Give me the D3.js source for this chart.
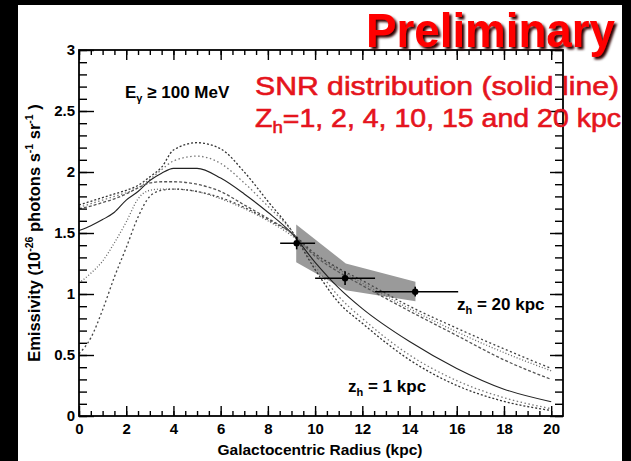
<!DOCTYPE html>
<html>
<head>
<meta charset="utf-8">
<script src="https://cdn.jsdelivr.net/npm/d3@7"></script>
<style>
  body { margin: 0; background: #000; }
  svg { display: block; font-family: 'Liberation Sans', Arial, sans-serif; }
</style>
</head>
<body>
<div id="chart"></div>
<script>
// galactocentric radius grid (kpc)
const radius = [0, 0.5, 1, 1.5, 2, 2.5, 3, 3.5, 4, 5, 6, 7, 8, 9, 10, 11, 12, 14, 16, 18, 20]

// model emissivity curves, one per halo height
const zh1 = [1.73, 1.76, 1.79, 1.82, 1.85, 1.89, 1.96, 2.04, 2.18, 2.24, 2.19, 2.0, 1.76, 1.52, 1.2, 0.93, 0.76, 0.46, 0.25, 0.12, 0.045]
const zh2 = [1.71, 1.74, 1.77, 1.8, 1.83, 1.87, 1.94, 2.02, 2.09, 2.13, 2.07, 1.91, 1.72, 1.52, 1.23, 0.98, 0.8, 0.5, 0.29, 0.15, 0.06]
const zh4 = [1.52, 1.56, 1.61, 1.67, 1.77, 1.84, 1.93, 1.99, 2.03, 2.03, 1.95, 1.82, 1.67, 1.5, 1.26, 1.05, 0.88, 0.61, 0.39, 0.22, 0.117]
const zh10 = [1.7, 1.72, 1.75, 1.78, 1.82, 1.87, 1.91, 1.92, 1.92, 1.9, 1.84, 1.73, 1.62, 1.5, 1.31, 1.18, 1.07, 0.86, 0.66, 0.46, 0.3]
const zh15 = [1.09, 1.17, 1.27, 1.42, 1.59, 1.78, 1.85, 1.86, 1.86, 1.84, 1.78, 1.7, 1.6, 1.48, 1.32, 1.2, 1.09, 0.88, 0.69, 0.52, 0.37]
const zh20 = [0.51, 0.64, 0.87, 1.14, 1.38, 1.63, 1.8, 1.85, 1.86, 1.84, 1.79, 1.71, 1.61, 1.5, 1.33, 1.21, 1.11, 0.9, 0.72, 0.55, 0.39]

// measured points
const pointR = [9.22, 11.27, 14.24]
const pointLo = [8.52, 10.0, 12.54]
const pointHi = [10.0, 12.54, 16.06]
const pointE = [1.416, 1.129, 1.019]
const pointELo = [1.366, 1.074, 0.98]
const pointEHi = [1.47, 1.185, 1.06]

// systematic band
const bandR = [9.2, 11.3, 14.25]
const bandUpper = [1.57, 1.25, 1.1]
const bandLower = [1.26, 1.03, 0.94]

const xMajor = d3.range(0, 21, 2)
const xMinor = d3.range(0, 20.5, 0.5)
const yMajor = [0, 0.5, 1, 1.5, 2, 2.5, 3]
const yMinor = d3.range(0, 3.01, 0.1)

const W = 631
const H = 461
const margin = { top: 50, left: 79, right: 68, bottom: 45 }

const svg = d3
  .select('#chart')
  .append('svg')
  .attr('width', W)
  .attr('height', H)

const defs = svg.append('defs')
defs.append('filter')
  .attr('id', 'shadow')
  .attr('x', '-5%').attr('y', '-10%').attr('width', '115%').attr('height', '130%')
  .append('feDropShadow')
  .attr('dx', 2.5).attr('dy', 2.5).attr('stdDeviation', 0.8)
  .attr('flood-color', '#300').attr('flood-opacity', 1)

// black slide background with white panel
svg.append('rect').attr('width', W).attr('height', H).attr('fill', '#000')
svg.append('rect')
  .attr('x', 18).attr('y', 5)
  .attr('width', 604).attr('height', H - 5)
  .attr('fill', '#fff')

const x = d3.scaleLinear().domain([0, 20.5]).range([margin.left, W - margin.right])
const y = d3.scaleLinear().domain([0, 3]).range([H - margin.bottom, margin.top])

// band
const bandPts = bandR.map((r, i) => [x(r), y(bandUpper[i])])
  .concat(bandR.map((r, i) => [x(r), y(bandLower[i])]).reverse())
svg.append('path')
  .attr('d', 'M' + bandPts.join('L') + 'Z')
  .attr('fill', '#9a9a9a')

// curves
const curves = [
  { v: zh1, dash: '2,2', color: '#333' },
  { v: zh2, dash: '1.5,2.5', color: '#777' },
  { v: zh4, dash: null, color: '#222' },
  { v: zh10, dash: '3,2', color: '#555' },
  { v: zh15, dash: '1,2', color: '#666' },
  { v: zh20, dash: '2,2.5', color: '#444' }
]

const line = d3.line()
  .x(d => x(d[0]))
  .y(d => y(d[1]))
  .curve(d3.curveMonotoneX)

curves.forEach(c => {
  svg.append('path')
    .attr('d', line(radius.map((r, i) => [r, c.v[i]])))
    .attr('fill', 'none')
    .attr('stroke', c.color)
    .attr('stroke-width', c.dash ? 1.3 : 1.1)
    .attr('stroke-dasharray', c.dash)
})

// data points with error bars
pointR.forEach((r, i) => {
  const g = svg.append('g').attr('stroke', '#000').attr('stroke-width', 1.6)
  g.append('line')
    .attr('x1', x(pointLo[i])).attr('x2', x(pointHi[i]))
    .attr('y1', y(pointE[i])).attr('y2', y(pointE[i]))
  g.append('line')
    .attr('x1', x(r)).attr('x2', x(r))
    .attr('y1', y(pointELo[i])).attr('y2', y(pointEHi[i]))
  g.append('circle')
    .attr('cx', x(r)).attr('cy', y(pointE[i]))
    .attr('r', 3.2).attr('fill', '#000').attr('stroke', 'none')
})

// axes (ROOT style, ticks inside frame)
const fontAxis = g => g.attr('font-size', 15).attr('font-weight', 'bold')
  .attr('font-family', "'Liberation Sans', Arial, sans-serif")

svg.append('g')
  .attr('transform', `translate(0,${y(0)})`)
  .call(d3.axisBottom(x).tickValues(xMinor).tickSize(-5).tickFormat(''))
  .call(g => g.select('.domain').remove())
svg.append('g')
  .attr('transform', `translate(0,${y(0)})`)
  .call(d3.axisBottom(x).tickValues(xMajor).tickSize(-10).tickPadding(7).tickFormat(d3.format('d')))
  .call(g => g.select('.domain').remove())
  .call(fontAxis)
  .call(g => g.selectAll('text').attr('fill', '#000'))

svg.append('g')
  .attr('transform', `translate(0,${y(3)})`)
  .call(d3.axisTop(x).tickValues(xMinor).tickSize(-5).tickFormat(''))
  .call(g => g.select('.domain').remove())
svg.append('g')
  .attr('transform', `translate(0,${y(3)})`)
  .call(d3.axisTop(x).tickValues(xMajor).tickSize(-10).tickFormat(''))
  .call(g => g.select('.domain').remove())

svg.append('g')
  .attr('transform', `translate(${x(0)},0)`)
  .call(d3.axisLeft(y).tickValues(yMinor).tickSize(-8).tickFormat(''))
  .call(g => g.select('.domain').remove())
svg.append('g')
  .attr('transform', `translate(${x(0)},0)`)
  .call(d3.axisLeft(y).tickValues(yMajor).tickSize(-15).tickPadding(4).tickFormat(d => d3.format('')(d)))
  .call(g => g.select('.domain').remove())
  .call(fontAxis)
  .call(g => g.selectAll('text').attr('fill', '#000'))

svg.append('g')
  .attr('transform', `translate(${x(20.5)},0)`)
  .call(d3.axisRight(y).tickValues(yMinor).tickSize(-8).tickFormat(''))
  .call(g => g.select('.domain').remove())
svg.append('g')
  .attr('transform', `translate(${x(20.5)},0)`)
  .call(d3.axisRight(y).tickValues(yMajor).tickSize(-13).tickFormat(''))
  .call(g => g.select('.domain').remove())

svg.selectAll('.tick line').attr('stroke', '#000').attr('stroke-width', 1.4)

// frame
svg.append('rect')
  .attr('x', x(0)).attr('y', y(3))
  .attr('width', x(20.5) - x(0)).attr('height', y(0) - y(3))
  .attr('fill', 'none').attr('stroke', '#000').attr('stroke-width', 1.8)

// axis titles
svg.append('text')
  .attr('x', 320).attr('y', 455)
  .attr('text-anchor', 'middle')
  .attr('font-size', 15).attr('font-weight', 'bold')
  .attr('textLength', 205).attr('lengthAdjust', 'spacingAndGlyphs')
  .text('Galactocentric Radius (kpc)')

const yt = svg.append('text')
  .attr('transform', 'translate(40,233) rotate(-90)')
  .attr('text-anchor', 'middle')
  .attr('font-size', 16.5).attr('font-weight', 'bold')
yt.append('tspan').text('Emissivity (10')
yt.append('tspan').attr('font-size', 10.5).attr('dy', -7).text('-26')
yt.append('tspan').attr('dy', 7).text(' photons s')
yt.append('tspan').attr('font-size', 10.5).attr('dy', -7).text('-1')
yt.append('tspan').attr('dy', 7).text(' sr')
yt.append('tspan').attr('font-size', 10.5).attr('dy', -7).text('-1')
yt.append('tspan').attr('dy', 7).text(' )')

// annotations
const eg = svg.append('text')
  .attr('x', 125).attr('y', 98)
  .attr('font-size', 17).attr('font-weight', 'bold')
eg.append('tspan').text('E')
eg.append('tspan').attr('font-size', 11).attr('dy', 4).text('γ')
eg.append('tspan').attr('dy', -4).text(' ≥ 100 MeV')

const z20 = svg.append('text')
  .attr('x', 457).attr('y', 310)
  .attr('font-size', 17).attr('font-weight', 'bold')
z20.append('tspan').text('z')
z20.append('tspan').attr('font-size', 11).attr('dy', 4).text('h')
z20.append('tspan').attr('dy', -4).text(' = 20 kpc')

const z1 = svg.append('text')
  .attr('x', 348).attr('y', 392)
  .attr('font-size', 17).attr('font-weight', 'bold')
z1.append('tspan').text('z')
z1.append('tspan').attr('font-size', 11).attr('dy', 4).text('h')
z1.append('tspan').attr('dy', -4).text(' = 1 kpc')

const red = '#e5141c'
svg.append('text')
  .attr('x', 255).attr('y', 95)
  .attr('font-size', 26).attr('fill', red)
  .attr('stroke', red).attr('stroke-width', 0.6)
  .attr('textLength', 364).attr('lengthAdjust', 'spacingAndGlyphs')
  .text('SNR distribution (solid line)')

const zl = svg.append('text')
  .attr('x', 255).attr('y', 127)
  .attr('font-size', 26).attr('fill', red)
  .attr('stroke', red).attr('stroke-width', 0.6)
  .attr('textLength', 366).attr('lengthAdjust', 'spacingAndGlyphs')
zl.append('tspan').text('Z')
zl.append('tspan').attr('font-size', 17).attr('dy', 6).text('h')
zl.append('tspan').attr('dy', -6).text('=1, 2, 4, 10, 15 and 20 kpc')

// right black edge of the slide
svg.append('rect').attr('x', 622).attr('y', 0).attr('width', 9).attr('height', H).attr('fill', '#000')

// Preliminary stamp with drop shadow, on top of everything
svg.append('text')
  .attr('x', 366).attr('y', 47)
  .attr('font-size', 49).attr('font-weight', 'bold').attr('fill', '#f00')
  .attr('textLength', 249).attr('lengthAdjust', 'spacingAndGlyphs')
  .attr('filter', 'url(#shadow)')
  .text('Preliminary')
</script>
</body>
</html>
